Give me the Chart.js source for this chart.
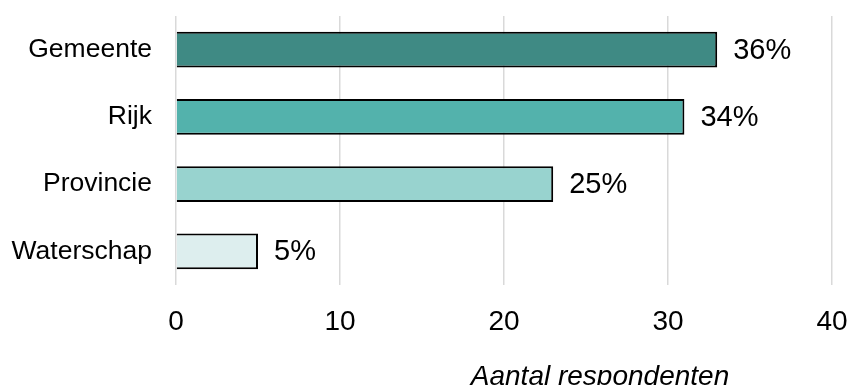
<!DOCTYPE html>
<html>
<head>
<meta charset="utf-8">
<script src="https://cdn.jsdelivr.net/npm/chart.js@4"></script>
<style>
    html, body { margin: 0; padding: 0; background: #ffffff; }
    #wrap { width: 849px; height: 385px; position: relative; }
</style>
</head>
<body>
<div id="wrap"><canvas id="chart"></canvas></div>
<script>
// ============================================
// Data
// ============================================

const categories = ['Gemeente', 'Rijk', 'Provincie', 'Waterschap'];
const respondents = [33, 31, 23, 5];
const percentLabels = ['36%', '34%', '25%', '5%'];
const barColors = ['#3f8a84', '#53b2ac', '#98d3cf', '#ddeeee'];
const xTicks = [0, 10, 20, 30, 40];
const axisTitle = 'Aantal respondenten';

const FONT = '"Liberation Sans", Arial, sans-serif';

// Percent labels next to each bar
const valueLabels = {
    id: 'valueLabels',
    afterDatasetsDraw(chart) {
        const ctx = chart.ctx;
        const meta = chart.getDatasetMeta(0);
        ctx.save();
        ctx.font = '29px ' + FONT;
        ctx.fillStyle = '#000000';
        ctx.textAlign = 'left';
        ctx.textBaseline = 'middle';
        meta.data.forEach((bar, i) => {
            ctx.fillText(percentLabels[i], bar.x + 16, bar.y + 1);
        });
        ctx.restore();
    }
};

// Axis title, offset to the right like the original
const xTitle = {
    id: 'xTitle',
    afterDraw(chart) {
        const ctx = chart.ctx;
        ctx.save();
        ctx.font = 'italic 28px ' + FONT;
        ctx.fillStyle = '#000000';
        ctx.textAlign = 'center';
        ctx.textBaseline = 'alphabetic';
        ctx.fillText(axisTitle, 600, 385);
        ctx.restore();
    }
};

new Chart(document.getElementById('chart'), {
    type: 'bar',
    data: {
        labels: categories,
        datasets: [{
            data: respondents,
            backgroundColor: barColors,
            borderColor: '#000000',
            borderWidth: 2,
            categoryPercentage: 1,
            barPercentage: 0.53
        }]
    },
    options: {
        indexAxis: 'y',
        responsive: true,
        maintainAspectRatio: false,
        animation: false,
        layout: {
            padding: { top: 16, right: 17, bottom: 0, left: 0 }
        },
        plugins: {
            legend: { display: false },
            tooltip: { enabled: false }
        },
        scales: {
            x: {
                min: xTicks[0],
                max: xTicks[xTicks.length - 1],
                afterBuildTicks: axis => {
                    axis.ticks = xTicks.map(v => ({ value: v }));
                },
                afterFit: axis => {
                    axis.height = 100;
                    axis.paddingLeft = 0;
                    axis.paddingRight = 0;
                },
                grid: {
                    color: '#d9d9d9',
                    lineWidth: 1.5,
                    drawTicks: false
                },
                border: { display: false },
                ticks: {
                    color: '#000000',
                    padding: 20,
                    font: { family: FONT, size: 28 }
                }
            },
            y: {
                afterFit: axis => {
                    axis.width = 176;
                    axis.paddingTop = 0;
                    axis.paddingBottom = 0;
                },
                grid: { display: false, drawTicks: false },
                border: { display: false },
                ticks: {
                    color: '#000000',
                    padding: 24,
                    font: { family: FONT, size: 26.5 }
                }
            }
        }
    },
    plugins: [valueLabels, xTitle]
});
</script>
</body>
</html>
